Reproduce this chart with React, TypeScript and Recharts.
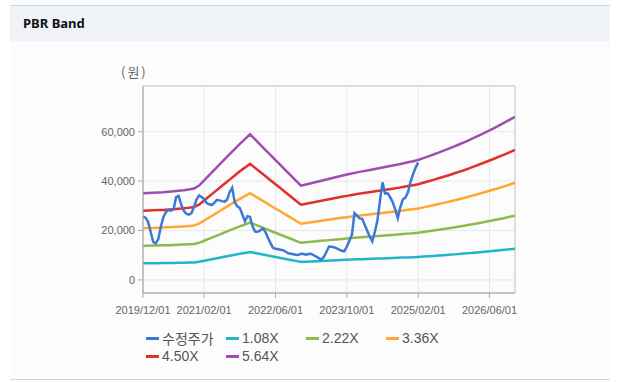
import React from "react";
import {
  LineChart,
  Line,
  XAxis,
  YAxis,
  CartesianGrid,
  ReferenceArea,
} from "recharts";

// Month index 0..73 (first = 2019/12), BPS estimate
const bps: number[] = [
  6220, 6240, 6260, 6280, 6300, 6330, 6360, 6400, 6440, 6490, 6560,
  6770, 7146, 7521, 7896, 8271, 8646, 9021, 9396, 9771, 10100,
  10450, 10080, 9710, 9340, 8970, 8600, 8240, 7870, 7500, 7130,
  6760, 6850, 6940, 7030, 7120, 7210, 7300, 7390, 7480, 7560,
  7640, 7720, 7790, 7860, 7930, 8000, 8070, 8140, 8210, 8280,
  8360, 8440, 8520, 8610, 8740, 8870, 9000, 9140, 9280, 9420,
  9570, 9720, 9870, 10040, 10210, 10380, 10560, 10740, 10920, 11110,
  11300, 11500, 11700,
];

const multiples: number[] = [1.08, 2.22, 3.36, 4.5, 5.64];
const bandNames: string[] = ["1.08X", "2.22X", "3.36X", "4.50X", "5.64X"];
const bandColors: string[] = ["#22b5c9", "#8cbb4c", "#ffa733", "#e0302a", "#9d4eae"];

// Adjusted price (수정주가), half-month steps starting 2019/12
const price: number[] = [
  25600, 25200, 23500, 19500, 15400, 14800, 16500, 21500, 25400, 27500,
  28300, 28000, 28600, 33500, 34000, 30500, 28000, 26800, 26400, 27000,
  29500, 32500, 34200, 33600, 32700, 31100, 30600, 30300, 31200, 32400,
  32200, 31900, 31700, 32500, 35500, 37300, 31500, 29800, 29100, 26500,
  23800, 25800, 25500, 21700, 19600, 19500, 20000, 20800, 19500, 17200,
  15000, 13000, 12600, 12400, 12200, 12000, 11400, 10800, 10600, 10400,
  10200, 10100, 10600, 10500, 10200, 10500, 10600, 10000, 9400, 8800,
  8200, 9300, 11400, 13500, 13400, 13200, 12800, 12300, 11800, 11600,
  13500, 15800, 18300, 27000, 26000, 24900, 24800, 22300, 19900, 17500,
  15600, 19500, 24000, 32000, 39500, 35000, 35100, 33500, 31500, 28500,
  25000, 29500, 32600, 33300, 35500, 39700, 42800, 45500, 47500,
];
const priceName = "수정주가";
const priceColor = "#3b79d6";

const xTickIdx: number[] = [0, 12, 26, 40, 54, 68];
const xTickLabels: string[] = [
  "2019/12/01",
  "2021/02/01",
  "2022/06/01",
  "2023/10/01",
  "2025/02/01",
  "2026/06/01",
];
const yTicks: number[] = [0, 20000, 40000, 60000];

const bandRows = bps.map((b, i) => {
  const row: Record<string, number> = { i };
  multiples.forEach((m, k) => {
    row[bandNames[k]] = Math.round(b * m);
  });
  return row;
});
const priceRows = price.map((v, k) => ({ i: k / 2, v }));

const X_MAX = bps.length - 1;
const Y_MIN = -5300;
const Y_MAX = 78500;

const fmtX = (v: number) => {
  const idx = xTickIdx.indexOf(v);
  return idx >= 0 ? xTickLabels[idx] : "";
};
const fmtY = (v: number) => v.toLocaleString("en-US");

const legendItems = [
  { name: priceName, color: priceColor },
  ...bandNames.map((n, k) => ({ name: n, color: bandColors[k] })),
];

export default function App() {
  const tickStyle = { fill: "#666", fontSize: 11, fontFamily: "Arial, 'Liberation Sans', sans-serif" };
  return (
    <div
      style={{
        position: "fixed",
        left: 0,
        top: 0,
        width: 618,
        height: 382,
        background: "#ffffff",
        overflow: "hidden",
      }}
    >
      <div
        style={{
          position: "absolute",
          left: 10,
          top: 5,
          width: 600,
          height: 373,
          background: "#fcfcfc",
          borderTop: "1px solid #d3d6da",
          borderBottom: "1px solid #d3d6da",
        }}
      />
      <div
        style={{
          position: "absolute",
          left: 10,
          top: 6,
          width: 600,
          height: 35,
          background: "#eff3f8",
        }}
      />
      <div
        style={{
          position: "absolute",
          left: 23,
          top: 15,
          fontFamily: "'Noto Sans', Arial, sans-serif",
          fontWeight: 700,
          fontSize: 13,
          lineHeight: "16px",
          color: "#111",
        }}
      >
        PBR Band
      </div>
      <div
        style={{
          position: "absolute",
          left: 121,
          top: 62,
          fontFamily: "'Noto Sans CJK KR', sans-serif",
          fontSize: 13,
          color: "#666",
          letterSpacing: 2,
        }}
      >
        (원)
      </div>
      <div style={{ position: "absolute", left: 0, top: 0 }}>
        <LineChart
          width={618}
          height={382}
          data={bandRows}
          margin={{ top: 86, right: 103, bottom: 59, left: 0 }}
        >
          <CartesianGrid stroke="#e8e8e8" strokeWidth={1} />
          <XAxis
            dataKey="i"
            type="number"
            domain={[0, X_MAX]}
            ticks={xTickIdx}
            tickFormatter={fmtX}
            interval={0}
            allowDataOverflow
            stroke="#aaa"
            tickSize={5}
            tickMargin={8}
            tick={tickStyle}
            height={30}
          />
          <YAxis
            type="number"
            domain={[Y_MIN, Y_MAX]}
            ticks={yTicks}
            tickFormatter={fmtY}
            allowDataOverflow
            stroke="#aaa"
            tickSize={5}
            tickMargin={3}
            tick={tickStyle}
            width={143}
          />
          <ReferenceArea
            x1={0}
            x2={X_MAX}
            y1={Y_MIN}
            y2={Y_MAX}
            fill="none"
            stroke="#c8c8c8"
            strokeWidth={1}
          />
          {bandNames.map((n, k) => (
            <Line
              key={n}
              dataKey={n}
              stroke={bandColors[k]}
              strokeWidth={2.5}
              dot={false}
              type="linear"
              isAnimationActive={false}
            />
          ))}
          <Line
            data={priceRows}
            dataKey="v"
            name={priceName}
            stroke={priceColor}
            strokeWidth={2.5}
            dot={false}
            type="linear"
            isAnimationActive={false}
          />
        </LineChart>
      </div>
      <div
        style={{
          position: "absolute",
          left: 146,
          top: 329,
          width: 330,
          display: "flex",
          flexWrap: "wrap",
          rowGap: 0,
          fontFamily: "Arial, 'Liberation Sans', sans-serif",
          fontSize: 14,
          color: "#555",
        }}
      >
        {legendItems.map((it) => (
          <div
            key={it.name}
            style={{ width: 80, height: 18, display: "flex", alignItems: "center" }}
          >
            <span
              style={{
                display: "inline-block",
                width: 13,
                height: 3,
                background: it.color,
                marginRight: 3,
              }}
            />
            <span style={{ fontFamily: it.name === priceName ? "'Noto Sans CJK KR', sans-serif" : undefined }}>
              {it.name}
            </span>
          </div>
        ))}
      </div>
    </div>
  );
}
